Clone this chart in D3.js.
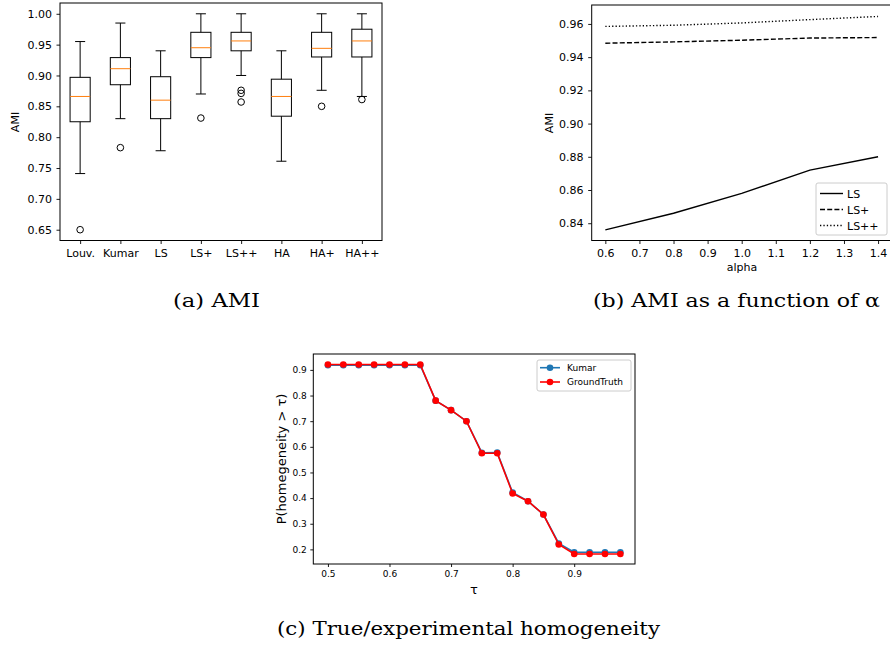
<!DOCTYPE html>
<html>
<head>
<meta charset="utf-8">
<script src="https://cdn.jsdelivr.net/npm/d3@7"></script>
<style>
  body { margin: 0; background: #fff; }
  svg { display: block; }
  .tick text { font-family: "DejaVu Sans", sans-serif; fill: #000; }
  .tick line { stroke: #000; stroke-width: 0.9; }
  .caption { font-family: "DejaVu Serif", serif; fill: #000; }
</style>
</head>
<body>
<script>
// ---- panel (a): AMI box plots
const methods = ["Louv.", "Kumar", "LS", "LS+", "LS++", "HA", "HA+", "HA++"];
const boxLow = [0.741, 0.830, 0.778, 0.870, 0.900, 0.761, 0.876, 0.866];
const boxQ1 = [0.825, 0.885, 0.830, 0.929, 0.940, 0.834, 0.930, 0.930];
const boxMed = [0.866, 0.911, 0.860, 0.945, 0.956, 0.866, 0.944, 0.956];
const boxQ3 = [0.897, 0.929, 0.898, 0.970, 0.970, 0.894, 0.970, 0.975];
const boxHigh = [0.955, 0.985, 0.940, 1.000, 1.000, 0.940, 1.000, 1.000];
const boxFliers = [[0.650], [0.783], [], [0.831], [0.876, 0.871, 0.857], [], [0.850], [0.861]];
const amiTicks = [0.65, 0.70, 0.75, 0.80, 0.85, 0.90, 0.95, 1.00];

// ---- panel (b): AMI vs alpha
const alphas = [0.6, 0.8, 1.0, 1.2, 1.4];
const amiLS = [0.836, 0.846, 0.858, 0.872, 0.880];
const amiLSp = [0.9484, 0.9492, 0.9502, 0.9515, 0.9518];
const amiLSpp = [0.9585, 0.9592, 0.9606, 0.9626, 0.9645];
const alphaTicks = [0.6, 0.7, 0.8, 0.9, 1.0, 1.1, 1.2, 1.3, 1.4];
const amiBTicks = [0.84, 0.86, 0.88, 0.90, 0.92, 0.94, 0.96];

// ---- panel (c): homogeneity
const taus = [0.5, 0.525, 0.55, 0.575, 0.6, 0.625, 0.65, 0.675, 0.7, 0.725,
  0.75, 0.775, 0.8, 0.825, 0.85, 0.875, 0.9, 0.925, 0.95, 0.975];
const kumar = [0.918, 0.918, 0.918, 0.918, 0.918, 0.918, 0.918, 0.780, 0.743, 0.700,
  0.577, 0.578, 0.422, 0.388, 0.336, 0.223, 0.189, 0.189, 0.189, 0.189];
const groundTruth = [0.921, 0.921, 0.921, 0.921, 0.921, 0.921, 0.921, 0.780, 0.743, 0.700,
  0.575, 0.575, 0.418, 0.388, 0.336, 0.219, 0.182, 0.182, 0.182, 0.182];
const tauTicks = [0.5, 0.6, 0.7, 0.8, 0.9];
const probTicks = [0.2, 0.3, 0.4, 0.5, 0.6, 0.7, 0.8, 0.9];

const svg = d3.select("body").append("svg")
  .attr("width", 890)
  .attr("height", 645);

svg.append("rect").attr("width", 890).attr("height", 645).attr("fill", "#fff");

function styleAxis(g, size) {
  g.select(".domain").remove();
  g.selectAll(".tick text").style("font-size", size + "px");
}

function frame(x0, y0, x1, y1) {
  svg.append("rect")
    .attr("x", x0).attr("y", y0)
    .attr("width", x1 - x0).attr("height", y1 - y0)
    .attr("fill", "none")
    .attr("stroke", "#000")
    .attr("stroke-width", 1);
}

function label(text, x, y, size, rotate) {
  const t = svg.append("text")
    .attr("text-anchor", "middle")
    .style("font-family", "DejaVu Sans, sans-serif")
    .style("font-size", size + "px")
    .text(text);
  if (rotate) t.attr("transform", `translate(${x},${y}) rotate(-90)`);
  else t.attr("x", x).attr("y", y);
  return t;
}

// ================= (a)
const xA = d3.scaleLinear().domain([0.5, 8.5]).range([60, 382]);
const yA = d3.scaleLinear().domain([0.6325, 1.0175]).range([240.5, 3]);

svg.append("g")
  .attr("transform", "translate(60,0)")
  .call(d3.axisLeft(yA).tickValues(amiTicks).tickFormat(d3.format(".2f")).tickSize(3.5).tickPadding(4.6))
  .call(styleAxis, 11);

svg.append("g")
  .attr("transform", "translate(0,240.5)")
  .call(d3.axisBottom(xA).tickValues(d3.range(1, 9)).tickFormat((d, i) => methods[i]).tickSize(3.5).tickPadding(5))
  .call(styleAxis, 11);

const boxW = (xA(1.25) - xA(0.75));
methods.forEach((m, i) => {
  const cx = xA(i + 1);
  const g = svg.append("g").attr("stroke", "#000").attr("stroke-width", 1).attr("fill", "none");
  // whiskers
  g.append("line").attr("x1", cx).attr("x2", cx).attr("y1", yA(boxLow[i])).attr("y2", yA(boxQ1[i]));
  g.append("line").attr("x1", cx).attr("x2", cx).attr("y1", yA(boxQ3[i])).attr("y2", yA(boxHigh[i]));
  // caps
  g.append("line").attr("x1", cx - boxW / 4).attr("x2", cx + boxW / 4).attr("y1", yA(boxLow[i])).attr("y2", yA(boxLow[i]));
  g.append("line").attr("x1", cx - boxW / 4).attr("x2", cx + boxW / 4).attr("y1", yA(boxHigh[i])).attr("y2", yA(boxHigh[i]));
  // box
  g.append("rect")
    .attr("x", cx - boxW / 2).attr("width", boxW)
    .attr("y", yA(boxQ3[i])).attr("height", yA(boxQ1[i]) - yA(boxQ3[i]));
  // median
  g.append("line")
    .attr("x1", cx - boxW / 2).attr("x2", cx + boxW / 2)
    .attr("y1", yA(boxMed[i])).attr("y2", yA(boxMed[i]))
    .attr("stroke", "#ff7f0e");
  boxFliers[i].forEach(v => {
    g.append("circle").attr("cx", cx).attr("cy", yA(v)).attr("r", 3.3);
  });
});
frame(60, 3, 382, 240.5);
label("AMI", 19, 122, 11, true);

// ================= (b)
const xB = d3.scaleLinear().domain([0.56, 1.44]).range([591.7, 891.7]);
const yB = d3.scaleLinear().domain([0.8296, 0.9714]).range([240.5, 5]);

svg.append("g")
  .attr("transform", "translate(591.7,0)")
  .call(d3.axisLeft(yB).tickValues(amiBTicks).tickFormat(d3.format(".2f")).tickSize(3.5).tickPadding(4.6))
  .call(styleAxis, 11);
svg.append("g")
  .attr("transform", "translate(0,240.5)")
  .call(d3.axisBottom(xB).tickValues(alphaTicks).tickFormat(d3.format(".1f")).tickSize(3.5).tickPadding(5))
  .call(styleAxis, 11);

const lineB = d3.line().x((d, i) => xB(alphas[i])).y(d => yB(d));
const seriesB = [
  {name: "LS", values: amiLS, dash: null},
  {name: "LS+", values: amiLSp, dash: "5,2.2"},
  {name: "LS++", values: amiLSpp, dash: "1.3,2.1"}
];
seriesB.forEach(s => {
  svg.append("path")
    .attr("d", lineB(s.values))
    .attr("fill", "none")
    .attr("stroke", "#000")
    .attr("stroke-width", 1.4)
    .attr("stroke-dasharray", s.dash);
});
frame(591.7, 5, 891.7, 240.5);
label("AMI", 553, 123, 11, true);
label("alpha", 742, 271, 11, false);

const legB = svg.append("g").attr("transform", "translate(816,183)");
legB.append("rect").attr("width", 71).attr("height", 52).attr("rx", 2)
  .attr("fill", "#fff").attr("fill-opacity", 0.8).attr("stroke", "#ccc");
seriesB.forEach((s, i) => {
  const y = 10.5 + i * 16;
  legB.append("line").attr("x1", 4).attr("x2", 27).attr("y1", y).attr("y2", y)
    .attr("stroke", "#000").attr("stroke-width", 1.4).attr("stroke-dasharray", s.dash);
  legB.append("text").attr("x", 31).attr("y", y + 4)
    .style("font-family", "DejaVu Sans, sans-serif").style("font-size", "11px").text(s.name);
});

// ================= (c)
const xC = d3.scaleLinear().domain([0.47625, 0.99875]).range([313.3, 635]);
const yC = d3.scaleLinear().domain([0.143, 0.962]).range([564, 354]);

svg.append("g")
  .attr("transform", "translate(313.3,0)")
  .call(d3.axisLeft(yC).tickValues(probTicks).tickFormat(d3.format(".1f")).tickSize(3).tickPadding(3.5))
  .call(styleAxis, 9);
svg.append("g")
  .attr("transform", "translate(0,564)")
  .call(d3.axisBottom(xC).tickValues(tauTicks).tickFormat(d3.format(".1f")).tickSize(3).tickPadding(4))
  .call(styleAxis, 9);

const lineC = d3.line().x((d, i) => xC(taus[i])).y(d => yC(d));
const seriesC = [
  {name: "Kumar", values: kumar, color: "#1f77b4"},
  {name: "GroundTruth", values: groundTruth, color: "#ff0000"}
];
seriesC.forEach(s => {
  svg.append("path")
    .attr("d", lineC(s.values))
    .attr("fill", "none")
    .attr("stroke", s.color)
    .attr("stroke-width", 1.6);
  svg.append("g").selectAll("circle")
    .data(s.values)
    .join("circle")
    .attr("cx", (d, i) => xC(taus[i]))
    .attr("cy", d => yC(d))
    .attr("r", 3.3)
    .attr("fill", s.color);
});
frame(313.3, 354, 635, 564);
label("P(homegeneity > \u03c4)", 286, 459, 13, true);
label("\u03c4", 474, 594, 13, false);

const legC = svg.append("g").attr("transform", "translate(537,360)");
legC.append("rect").attr("width", 94).attr("height", 31).attr("rx", 2)
  .attr("fill", "#fff").attr("fill-opacity", 0.8).attr("stroke", "#ccc");
seriesC.forEach((s, i) => {
  const y = 7.7 + i * 14.3;
  legC.append("line").attr("x1", 3).attr("x2", 23).attr("y1", y).attr("y2", y)
    .attr("stroke", s.color).attr("stroke-width", 1.6);
  legC.append("circle").attr("cx", 13).attr("cy", y).attr("r", 3.3).attr("fill", s.color);
  legC.append("text").attr("x", 30).attr("y", y + 3.2)
    .style("font-family", "DejaVu Sans, sans-serif").style("font-size", "9px").text(s.name);
});

// ================= captions
function caption(text, x, y, len) {
  svg.append("text")
    .attr("class", "caption")
    .attr("x", x).attr("y", y)
    .attr("text-anchor", "middle")
    .attr("textLength", len)
    .attr("lengthAdjust", "spacingAndGlyphs")
    .style("font-size", "18px")
    .text(text);
}
caption("(a) AMI", 216.5, 307, 87);
caption("(b) AMI as a function of \u03b1", 736.5, 307, 287);
caption("(c) True/experimental homogeneity", 468.5, 635, 383);
</script>
</body>
</html>
